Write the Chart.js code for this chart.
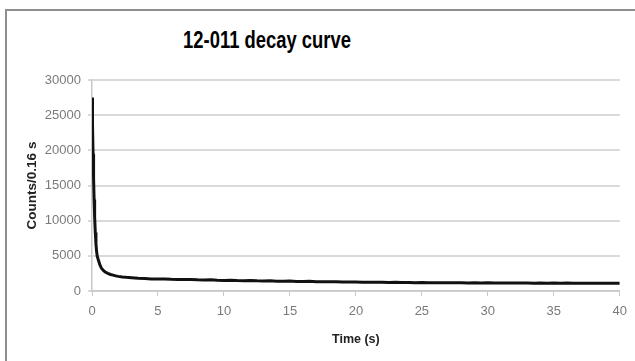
<!DOCTYPE html>
<html>
<head>
<meta charset="utf-8">
<script src="https://cdn.jsdelivr.net/npm/chart.js@4/dist/chart.umd.min.js"></script>
<style>
  html, body { margin: 0; padding: 0; background: #fff; }
  #wrap { position: relative; width: 635px; height: 361px; overflow: hidden; }
  #frame { position: absolute; left: 5px; top: 9px; width: 700px; height: 400px;
           border-left: 2px solid #8f8f8f; border-top: 2px solid #8f8f8f; }
  #title { position: absolute; left: 0; width: 534px; top: 27px; text-align: center;
           font: bold 23px "Liberation Sans", Arial, sans-serif; color: #000;
           transform: scaleX(0.8); transform-origin: 267px 0; }
  canvas { position: absolute; left: 0; top: 0; }
</style>
</head>
<body>
<div id="wrap">
  <div id="frame"></div>
  <div id="title">12-011 decay curve</div>
  <canvas id="c" width="635" height="361"></canvas>
</div>
<script>
const chartTitle = "12-011 decay curve";
const xTitle = "Time (s)";
const yTitle = "Counts/0.16 s";

// time (s)
const times = [
  0, 0.04, 0.08, 0.12, 0.16, 0.2, 0.25, 0.3, 0.35, 0.4, 0.5, 0.6, 0.7, 0.8, 0.9, 1.0,
  1.2, 1.4, 1.6, 1.8, 2.0, 2.3, 2.6, 3.0, 3.5, 4.0, 4.5, 5,
  5.5, 6, 6.5, 7, 7.5, 8, 8.5, 9, 9.5, 10,
  10.5, 11, 11.5, 12, 12.5, 13, 13.5, 14, 14.5, 15,
  15.5, 16, 16.5, 17, 17.5, 18, 18.5, 19, 19.5, 20,
  20.5, 21, 21.5, 22, 22.5, 23, 23.5, 24, 24.5, 25,
  25.5, 26, 26.5, 27, 27.5, 28, 28.5, 29, 29.5, 30,
  30.5, 31, 31.5, 32, 32.5, 33, 33.5, 34, 34.5, 35,
  35.5, 36, 36.5, 37, 37.5, 38, 38.5, 39, 39.5, 40
];

// counts per 0.16 s
const counts = [
  27500, 23500, 19500, 16000, 13000, 10500, 8300, 6700, 5600, 4900, 4300, 3700, 3300, 3050, 2850, 2700,
  2500, 2350, 2250, 2150, 2080, 2000, 1940, 1880, 1800, 1760, 1720, 1690,
  1700, 1660, 1650, 1620, 1640, 1590, 1570, 1590, 1530, 1510,
  1530, 1480, 1470, 1490, 1440, 1420, 1450, 1400, 1390, 1410,
  1360, 1350, 1370, 1320, 1330, 1300, 1320, 1280, 1270, 1290,
  1250, 1260, 1230, 1250, 1220, 1230, 1200, 1220, 1190, 1200,
  1180, 1190, 1170, 1180, 1160, 1190, 1150, 1170, 1140, 1160,
  1130, 1150, 1130, 1140, 1120, 1140, 1110, 1130, 1110, 1120,
  1100, 1120, 1100, 1110, 1090, 1110, 1090, 1100, 1090, 1100
];

const xTicks = { min: 0, max: 40, step: 5 };
const yTicks = { min: 0, max: 30000, step: 5000 };

document.getElementById("title").textContent = chartTitle;

const points = times.map((t, i) => ({ x: t, y: counts[i] }));
const tickFont = { family: "'Liberation Sans', Arial, sans-serif", size: 13 };

new Chart(document.getElementById("c"), {
  type: "line",
  data: {
    datasets: [{
      data: points,
      borderColor: "#111",
      borderWidth: 3,
      pointRadius: 0,
      tension: 0,
      fill: false
    }]
  },
  options: {
    responsive: false,
    animation: false,
    layout: { padding: { left: 20, top: 80, right: 13, bottom: 10 } },
    plugins: { legend: { display: false }, tooltip: { enabled: false } },
    scales: {
      x: {
        type: "linear",
        min: xTicks.min, max: xTicks.max,
        ticks: { stepSize: xTicks.step, color: "#7a7a7a", font: tickFont, padding: 8, maxRotation: 0,
                 callback: (v) => String(v) },
        grid: { drawOnChartArea: false, color: "#c8c8c8", tickLength: 5, lineWidth: 1 },
        border: { color: "#c8c8c8", width: 1.5 },
        title: { display: true, text: xTitle, color: "#222",
                 font: { family: "'Liberation Sans', Arial, sans-serif", size: 12.5, weight: "bold" },
                 padding: { top: 6 } },
        afterFit: (s) => { s.height = 60; }
      },
      y: {
        min: yTicks.min, max: yTicks.max,
        ticks: { stepSize: yTicks.step, color: "#7a7a7a", font: tickFont, padding: 7,
                 callback: (v) => String(v) },
        grid: { color: "#d9d9d9", lineWidth: 2, tickLength: 4 },
        border: { color: "#c8c8c8", width: 1.5 },
        title: { display: true, text: yTitle, color: "#222",
                 font: { family: "'Liberation Sans', Arial, sans-serif", size: 13.5, weight: "bold" },
                 padding: { bottom: 2 } },
        afterFit: (s) => { s.width = 72; }
      }
    }
  }
});
</script>
</body>
</html>
